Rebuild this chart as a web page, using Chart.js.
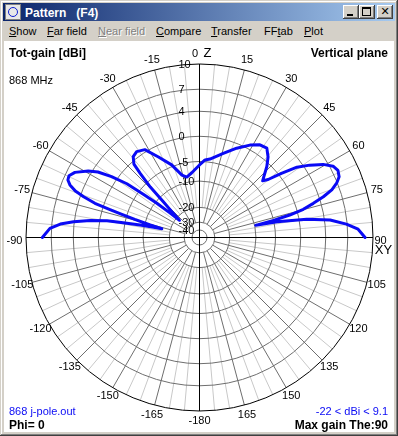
<!DOCTYPE html>
<html>
<head>
<meta charset="utf-8">
<title>Pattern (F4)</title>
<script src="https://cdn.jsdelivr.net/npm/chart.js@4.4.1/dist/chart.umd.min.js"></script>
<style>
  html, body { margin: 0; padding: 0; background: #d4d0c8; }
  #win { position: relative; width: 398px; height: 436px; background: #d4d0c8; overflow: hidden;
         box-shadow: inset -1px -1px #404040, inset 1px 1px #d4d0c8, inset -2px -2px #808080, inset 2px 2px #fff;
         font-family: "Liberation Sans", Arial, sans-serif; }
  #title { position: absolute; left: 3px; top: 3px; width: 392px; height: 18px;
           background: linear-gradient(to right, #0a246a, #a6caf0); }
  #title .txt { position: absolute; left: 22px; top: 3px; color: #fff; font: bold 12px "Liberation Sans", Arial, sans-serif;
                white-space: pre; line-height: 14px; }
  #icon { position: absolute; left: 2px; top: 1px; width: 14px; height: 14px; background: #e8e8e8; border: 1px solid #808080; }
  #icon div { position: absolute; left: 2px; top: 2px; width: 8px; height: 8px; border: 1px solid #1020d0; border-radius: 50%; }
  .btn { position: absolute; top: 2px; width: 16px; height: 14px; background: #d4d0c8;
         box-shadow: inset -1px -1px #404040, inset 1px 1px #fff, inset -2px -2px #808080; }
  .btn i { position: absolute; background: #000; }
  #menu { position: absolute; left: 3px; top: 21px; width: 392px; height: 19px; font-size: 11px; line-height: 13px; color: #000; }
  #menu span { position: absolute; top: 4px; white-space: pre; }
  #menu .dis { color: #808080; text-shadow: 1px 1px #fff; }
  #client { position: absolute; left: 4px; top: 41px; width: 390px; height: 391px; background: #fff; }
</style>
</head>
<body>
<div id="win">
  <div id="title">
    <div id="icon"><div></div></div>
    <div class="txt">Pattern   (F4)</div>
    <div class="btn" style="left:340px"><i style="left:4px;top:9px;width:6px;height:2px"></i></div>
    <div class="btn" style="left:356px"><i style="left:3px;top:2px;width:9px;height:2px"></i><i style="left:3px;top:2px;width:1px;height:9px"></i><i style="left:11px;top:2px;width:1px;height:9px"></i><i style="left:3px;top:10px;width:9px;height:1px"></i></div>
    <div class="btn" style="left:374px;font:bold 11px 'DejaVu Sans',sans-serif;text-align:center;line-height:13px">&#x2715;</div>
  </div>
  <div id="menu">
    <span style="left:6px"><u>S</u>how</span>
    <span style="left:44px"><u>F</u>ar field</span>
    <span style="left:95px" class="dis"><u>N</u>ear field</span>
    <span style="left:153px"><u>C</u>ompare</span>
    <span style="left:208px"><u>T</u>ransfer</span>
    <span style="left:261px">FF<u>t</u>ab</span>
    <span style="left:301px"><u>P</u>lot</span>
  </div>
  <div id="client"><canvas id="pattern" width="390" height="391"></canvas></div>
</div>
<script>
// Far-field samples: theta (deg from zenith, + = right) and total gain (dBi)
const thetaDeg = [-90, -86.5, -84.5, -82.9, -81.1, -79.7, -79.0, -78.1, -77.5, -76.9,
  -75.8, -74.4, -73.4, -72.6, -71.9, -70.6, -69.5, -67.9, -66.4, -64.7, -62.4, -59.1, -57.2, -55.3, -53.5, -52.3, -51.2, -50.3, -49.3,
  -46.7, -45.3, -44.3, -42.8, -41.8, -39.3, -36.2, -31.9, -27.0, -21.0, -15.7, -11.9, -6.8, 0, 4.1, 7.6, 15.8, 22.6, 28.6, 33.1, 37.0, 40.4, 43.5, 46.7, 48.1,
  49.8, 51.9, 54.2, 56.7, 59.4, 61.9, 64.1, 66.5, 68.4, 70.2, 71.8, 73.3, 74.8, 76.0, 77.0, 77.8,
  78.6, 80.4, 82.4, 84.8, 87.0, 90];
const gainDb = [8.1, 7.2, 5.9, 4.1, 1.6, -1.3, -4.6, -8.8, -13.0, -16.1,
  -11.7, -7.1, -3.9, -1.1, 1.5, 3.5, 4.9, 5.9, 6.4, 6.5, 6.0, 4.5, 3.2, 1.0, -2.0, -6.5, -10.5, -16.0, -22.0,
  -15.9, -11.7, -6.3, -2.6, -0.5, 0.6, 0.9, 0.4, -2.0, -4.6, -7.7, -8.5, -7.6, -5.8, -4.6, -4.3, -2.6, -0.8, 0.7, 1.6, 1.8, 0.8, -0.6, -2.4, -3.1,
  -2.1, 0.5, 3.1, 4.8, 6.4, 7.4, 7.7, 7.5, 6.9, 6.0, 4.6, 2.9, 1.1, -1.5, -5.0, -9.7,
  -4.3, 1.3, 4.8, 6.9, 8.3, 9.1];

const gainTicks = [10, 7, 4, 0, -5, -10, -20, -30, -40];
// one label every 15 deg, clockwise from the top
const angleTickLabels = ['0', '15', '30', '45', '60', '75', '90', '105', '120', '135', '150', '165',
  '-180', '-165', '-150', '-135', '-120', '-105', '-90', '-75', '-60', '-45', '-30', '-15'];

const FONT = '"Liberation Sans", Arial, sans-serif';
const BLUE = '#0a0af5';

// log radius like the 4nec2 plot, 10 dBi on the outer ring
const gainToRadius = db => {
  const d = 10 - db;
  return Math.exp(-0.0517 * d - 0.000222 * d * d);
};

class PatternScale extends Chart.RadialLinearScale {
  static id = 'pattern';

  fit() {
    this.xCenter = (this.left + this.right) / 2;
    this.yCenter = (this.top + this.bottom) / 2;
    this.drawingArea = Math.min(this.right - this.left, this.bottom - this.top) / 2;
  }

  // labels hold the real angle of every sample
  getIndexAngle(index) {
    const t = this.chart.data.labels[index];
    return typeof t === 'number' ? t * Math.PI / 180 : 0;
  }

  getDistanceFromCenterForValue(value) {
    if (value === null || value === undefined || isNaN(value)) return NaN;
    return this.drawingArea * gainToRadius(value);
  }

  drawGrid() {
    const ctx = this.ctx, cx = this.xCenter, cy = this.yCenter, R = this.drawingArea;
    const rad = v => this.getDistanceFromCenterForValue(v);
    const spoke = (deg, r0, color) => {
      const a = (deg - 90) * Math.PI / 180;
      ctx.strokeStyle = color;
      ctx.beginPath();
      ctx.moveTo(cx + Math.cos(a) * r0, cy + Math.sin(a) * r0);
      ctx.lineTo(cx + Math.cos(a) * R, cy + Math.sin(a) * R);
      ctx.stroke();
    };
    ctx.save();
    ctx.lineWidth = 1;
    for (let deg = 0; deg < 360; deg += 5) {
      if (deg % 15) spoke(deg, rad(-20), '#c8c8c8');
    }
    for (let deg = 15; deg < 360; deg += 15) {
      if (deg % 90) spoke(deg, rad(-30), '#6e6e6e');
    }
    this.ticks.forEach(t => {
      ctx.strokeStyle = t.value === this.max ? '#000' : '#6e6e6e';
      ctx.beginPath();
      ctx.arc(cx, cy, rad(t.value), 0, Math.PI * 2);
      ctx.stroke();
    });
    ctx.strokeStyle = '#000';
    ctx.beginPath();
    ctx.moveTo(cx - R, cy); ctx.lineTo(cx + R, cy);
    ctx.moveTo(cx, cy - R); ctx.lineTo(cx, cy + R);
    ctx.stroke();
    ctx.restore();
  }

  drawLabels() {
    const ctx = this.ctx, cx = this.xCenter, cy = this.yCenter, R = this.drawingArea;
    ctx.save();
    ctx.fillStyle = '#000';
    ctx.font = '11px ' + FONT;
    ctx.textAlign = 'left';
    ctx.textBaseline = 'middle';
    this.ticks.forEach(t => {
      ctx.fillText(t.label, cx - 21, cy - this.getDistanceFromCenterForValue(t.value) + 1);
    });

    ctx.textAlign = 'center';
    angleTickLabels.forEach((txt, k) => {
      const a = (k * 15 - 90) * Math.PI / 180;
      let x = cx + Math.cos(a) * (R + 10);
      let y = cy + Math.sin(a) * (R + 10);
      if (k === 0) {
        ctx.fillText(txt, x - 4.5, y);
        ctx.font = '13px ' + FONT;
        ctx.fillText('Z', x + 8, y - 0.5);
        ctx.font = '11px ' + FONT;
      } else if (k === 6) {
        ctx.fillText(txt, x - 2.5, y + 3);
        ctx.font = '13px ' + FONT;
        ctx.fillText('XY', x + 0.5, y + 12.5);
        ctx.font = '11px ' + FONT;
      } else if (k === 18) {
        ctx.fillText(txt, x - 1.5, y + 3.5);
      } else {
        ctx.fillText(txt, x, y);
      }
    });
    ctx.restore();
  }
}
Chart.register(PatternScale);

const minGain = Math.min(...gainDb), maxGain = Math.max(...gainDb);

const cornerText = {
  id: 'cornerText',
  afterDraw(chart) {
    const ctx = chart.ctx;
    const put = (txt, x, y, font, color, align) => {
      ctx.font = font;
      ctx.fillStyle = color;
      ctx.textAlign = align;
      ctx.textBaseline = 'alphabetic';
      ctx.fillText(txt, x, y);
    };
    const bold = 'bold 12px ' + FONT, plain = '11px ' + FONT;
    ctx.save();
    put('Tot-gain [dBi]', 5, 16, bold, '#000', 'left');
    put('Vertical plane', 384, 16, bold, '#000', 'right');
    put('868 MHz', 5, 43, plain, '#000', 'left');
    put('868 j-pole.out', 5, 374, plain, BLUE, 'left');
    put(Math.round(minGain) + ' < dBi < ' + maxGain, 384, 374, plain, BLUE, 'right');
    put('Phi= 0', 5, 387.5, bold, '#000', 'left');
    put('Max gain The:' + Math.abs(thetaDeg[gainDb.indexOf(maxGain)]), 384, 387.5, bold, '#000', 'right');
    ctx.restore();
  }
};

new Chart(document.getElementById('pattern'), {
  type: 'radar',
  data: {
    labels: [...thetaDeg, null],
    datasets: [{
      label: 'Tot-gain',
      data: [...gainDb, null],
      borderColor: BLUE,
      borderWidth: 3,
      borderJoinStyle: 'round',
      borderCapStyle: 'round',
      pointRadius: 0,
      fill: false,
      tension: 0,
      spanGaps: false
    }]
  },
  options: {
    responsive: false,
    devicePixelRatio: 1,
    animation: false,
    layout: { padding: { left: 22, top: 23, right: 21, bottom: 21 } },
    plugins: { legend: { display: false }, tooltip: { enabled: false } },
    scales: {
      r: {
        type: 'pattern',
        min: -40,
        max: 10,
        ticks: { display: false, callback: v => String(v) },
        pointLabels: { display: false },
        afterBuildTicks: s => { s.ticks = gainTicks.map(v => ({ value: v })); }
      }
    }
  },
  plugins: [cornerText]
});
</script>
</body>
</html>
